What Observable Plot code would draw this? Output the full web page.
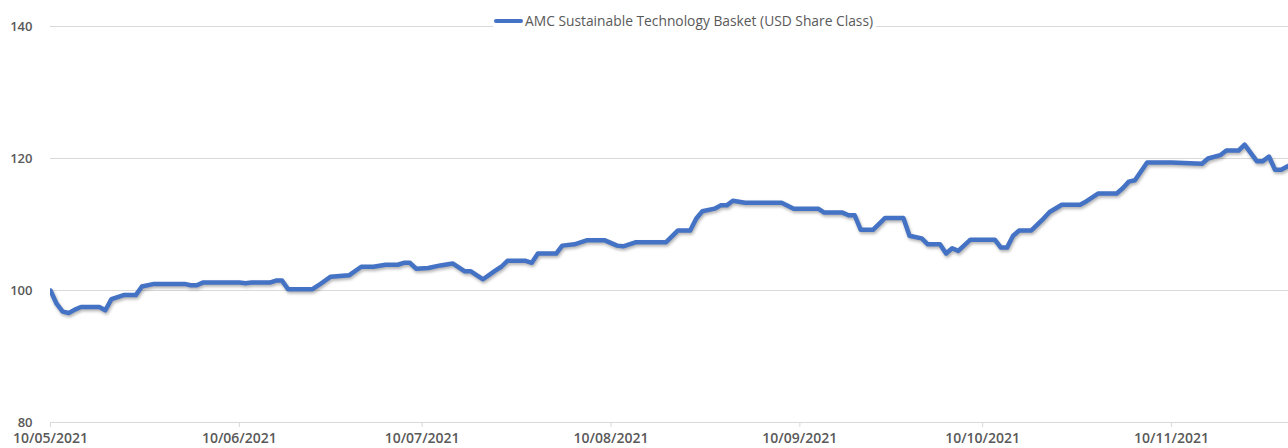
<!DOCTYPE html>
<html><head><meta charset="utf-8">
<script src="https://cdn.jsdelivr.net/npm/d3@7"></script>
<script src="https://cdn.jsdelivr.net/npm/@observablehq/plot@0.6"></script>
<style>
body{margin:0;background:#fff;}
#wrap{position:relative;width:1288px;height:448px;font-family:"Open Sans",sans-serif;}
#legend{position:absolute;left:493px;top:10px;background:#fff;display:flex;align-items:center;font-size:13.8px;color:#595959;padding:0 3px 0 1px;height:21px;z-index:2}
#legend .sw{display:inline-block;width:29px;height:4px;background:#4472C4;margin-right:2px;border-radius:2px}
</style></head><body><div id="wrap"></div>
<script>
const seriesName = "AMC Sustainable Technology Basket (USD Share Class)";
const dates = [
  "2021-05-10","2021-05-11","2021-05-12","2021-05-13","2021-05-14","2021-05-15","2021-05-18","2021-05-19","2021-05-20","2021-05-22",
  "2021-05-24","2021-05-25","2021-05-27","2021-06-01","2021-06-02","2021-06-03","2021-06-04","2021-06-10","2021-06-11","2021-06-12",
  "2021-06-15","2021-06-16","2021-06-17","2021-06-18","2021-06-22","2021-06-23","2021-06-25","2021-06-28","2021-06-30","2021-07-02",
  "2021-07-04","2021-07-06","2021-07-07","2021-07-08","2021-07-09","2021-07-11","2021-07-13","2021-07-15","2021-07-17","2021-07-18",
  "2021-07-20","2021-07-22","2021-07-23","2021-07-24","2021-07-27","2021-07-28","2021-07-29","2021-08-01","2021-08-02","2021-08-04",
  "2021-08-06","2021-08-09","2021-08-11","2021-08-12","2021-08-14","2021-08-19","2021-08-21","2021-08-23","2021-08-24","2021-08-25",
  "2021-08-27","2021-08-28","2021-08-29","2021-08-30","2021-09-01","2021-09-07","2021-09-09","2021-09-13","2021-09-14","2021-09-17",
  "2021-09-18","2021-09-19","2021-09-20","2021-09-22","2021-09-24","2021-09-27","2021-09-28","2021-09-30","2021-10-01","2021-10-03",
  "2021-10-04","2021-10-05","2021-10-06","2021-10-08","2021-10-12","2021-10-13","2021-10-14","2021-10-15","2021-10-16","2021-10-18",
  "2021-10-20","2021-10-21","2021-10-23","2021-10-26","2021-10-27","2021-10-29","2021-11-01","2021-11-02","2021-11-03","2021-11-04",
  "2021-11-06","2021-11-10","2021-11-15","2021-11-16","2021-11-18","2021-11-19","2021-11-21","2021-11-22","2021-11-24","2021-11-25",
  "2021-11-26","2021-11-27","2021-11-28","2021-11-29","2021-11-30"
];
const values = [
  100.0, 98.0, 96.8, 96.6, 97.1, 97.5, 97.5, 97.0, 98.7, 99.3,
  99.3, 100.6, 101.0, 101.0, 100.8, 100.8, 101.2, 101.2, 101.1, 101.2,
  101.2, 101.5, 101.5, 100.2, 100.2, 100.8, 102.1, 102.3, 103.6, 103.6,
  103.9, 103.9, 104.2, 104.2, 103.3, 103.4, 103.8, 104.1, 102.9, 102.9,
  101.7, 103.0, 103.6, 104.5, 104.5, 104.2, 105.6, 105.6, 106.8, 107.0,
  107.6, 107.6, 106.8, 106.7, 107.3, 107.3, 109.1, 109.1, 110.9, 112.0,
  112.4, 112.9, 112.9, 113.6, 113.3, 113.3, 112.4, 112.4, 111.8, 111.8,
  111.4, 111.4, 109.2, 109.2, 111.0, 111.0, 108.3, 107.9, 107.0, 107.0,
  105.6, 106.4, 106.0, 107.7, 107.7, 106.5, 106.5, 108.3, 109.1, 109.1,
  110.9, 111.9, 113.0, 113.0, 113.5, 114.7, 114.7, 115.5, 116.5, 116.7,
  119.4, 119.4, 119.2, 120.0, 120.5, 121.2, 121.2, 122.1, 119.6, 119.6,
  120.3, 118.3, 118.3, 118.8, 119.3
];
const yTicks = [80, 100, 120, 140];
const xTicks = ["2021-05-10","2021-06-10","2021-07-10","2021-08-10","2021-09-10","2021-10-10","2021-11-10"];
const xStart = "2021-05-10";
const xEnd = "2021-11-29T05:00:00Z";

const data = dates.map((d, i) => ({date: new Date(d), value: values[i]}));
const tickDates = xTicks.map(d => new Date(d));
const fmt = d3.utcFormat("%d/%m/%Y");

const chart = Plot.plot({
  width: 1288,
  height: 448,
  marginLeft: 50,
  marginRight: 0,
  marginTop: 26,
  marginBottom: 26,
  style: {fontFamily: "'Open Sans', sans-serif", fontSize: "14px", color: "#595959", background: "#fff", overflow: "visible"},
  x: {type: "utc", domain: [new Date(xStart), new Date(xEnd)]},
  y: {domain: [yTicks[0], yTicks[yTicks.length - 1]]},
  marks: [
    Plot.gridY(yTicks.slice(1), {stroke: "#d9d9d9", strokeOpacity: 1}),
    Plot.ruleY([yTicks[0]], {stroke: "#d9d9d9"}),
    Plot.axisY({ticks: yTicks, tickSize: 0, tickPadding: 18, label: null, fill: "#595959", fontSize: 13, fontWeight: 600}),
    Plot.axisX({ticks: tickDates, tickFormat: fmt, tickSize: 5, tickPadding: 6, label: null, stroke: "#d9d9d9", fill: "#595959", fontSize: 14, fontWeight: 600}),
    Plot.line(data, {x: "date", y: "value", stroke: "#4472C4", strokeWidth: 4.5, strokeLinejoin: "round", strokeLinecap: "round", clip: true})
  ]
});
const wrap = document.getElementById("wrap");
wrap.appendChild(chart);
d3.select(chart).selectAll("g[aria-label='line'] path").style("filter", "drop-shadow(1px 2px 1.5px rgba(0,0,0,0.3))");

const legend = document.createElement("div");
legend.id = "legend";
legend.innerHTML = '<span class="sw"></span><span></span>';
legend.lastChild.textContent = seriesName;
wrap.appendChild(legend);
</script>
</body></html>
